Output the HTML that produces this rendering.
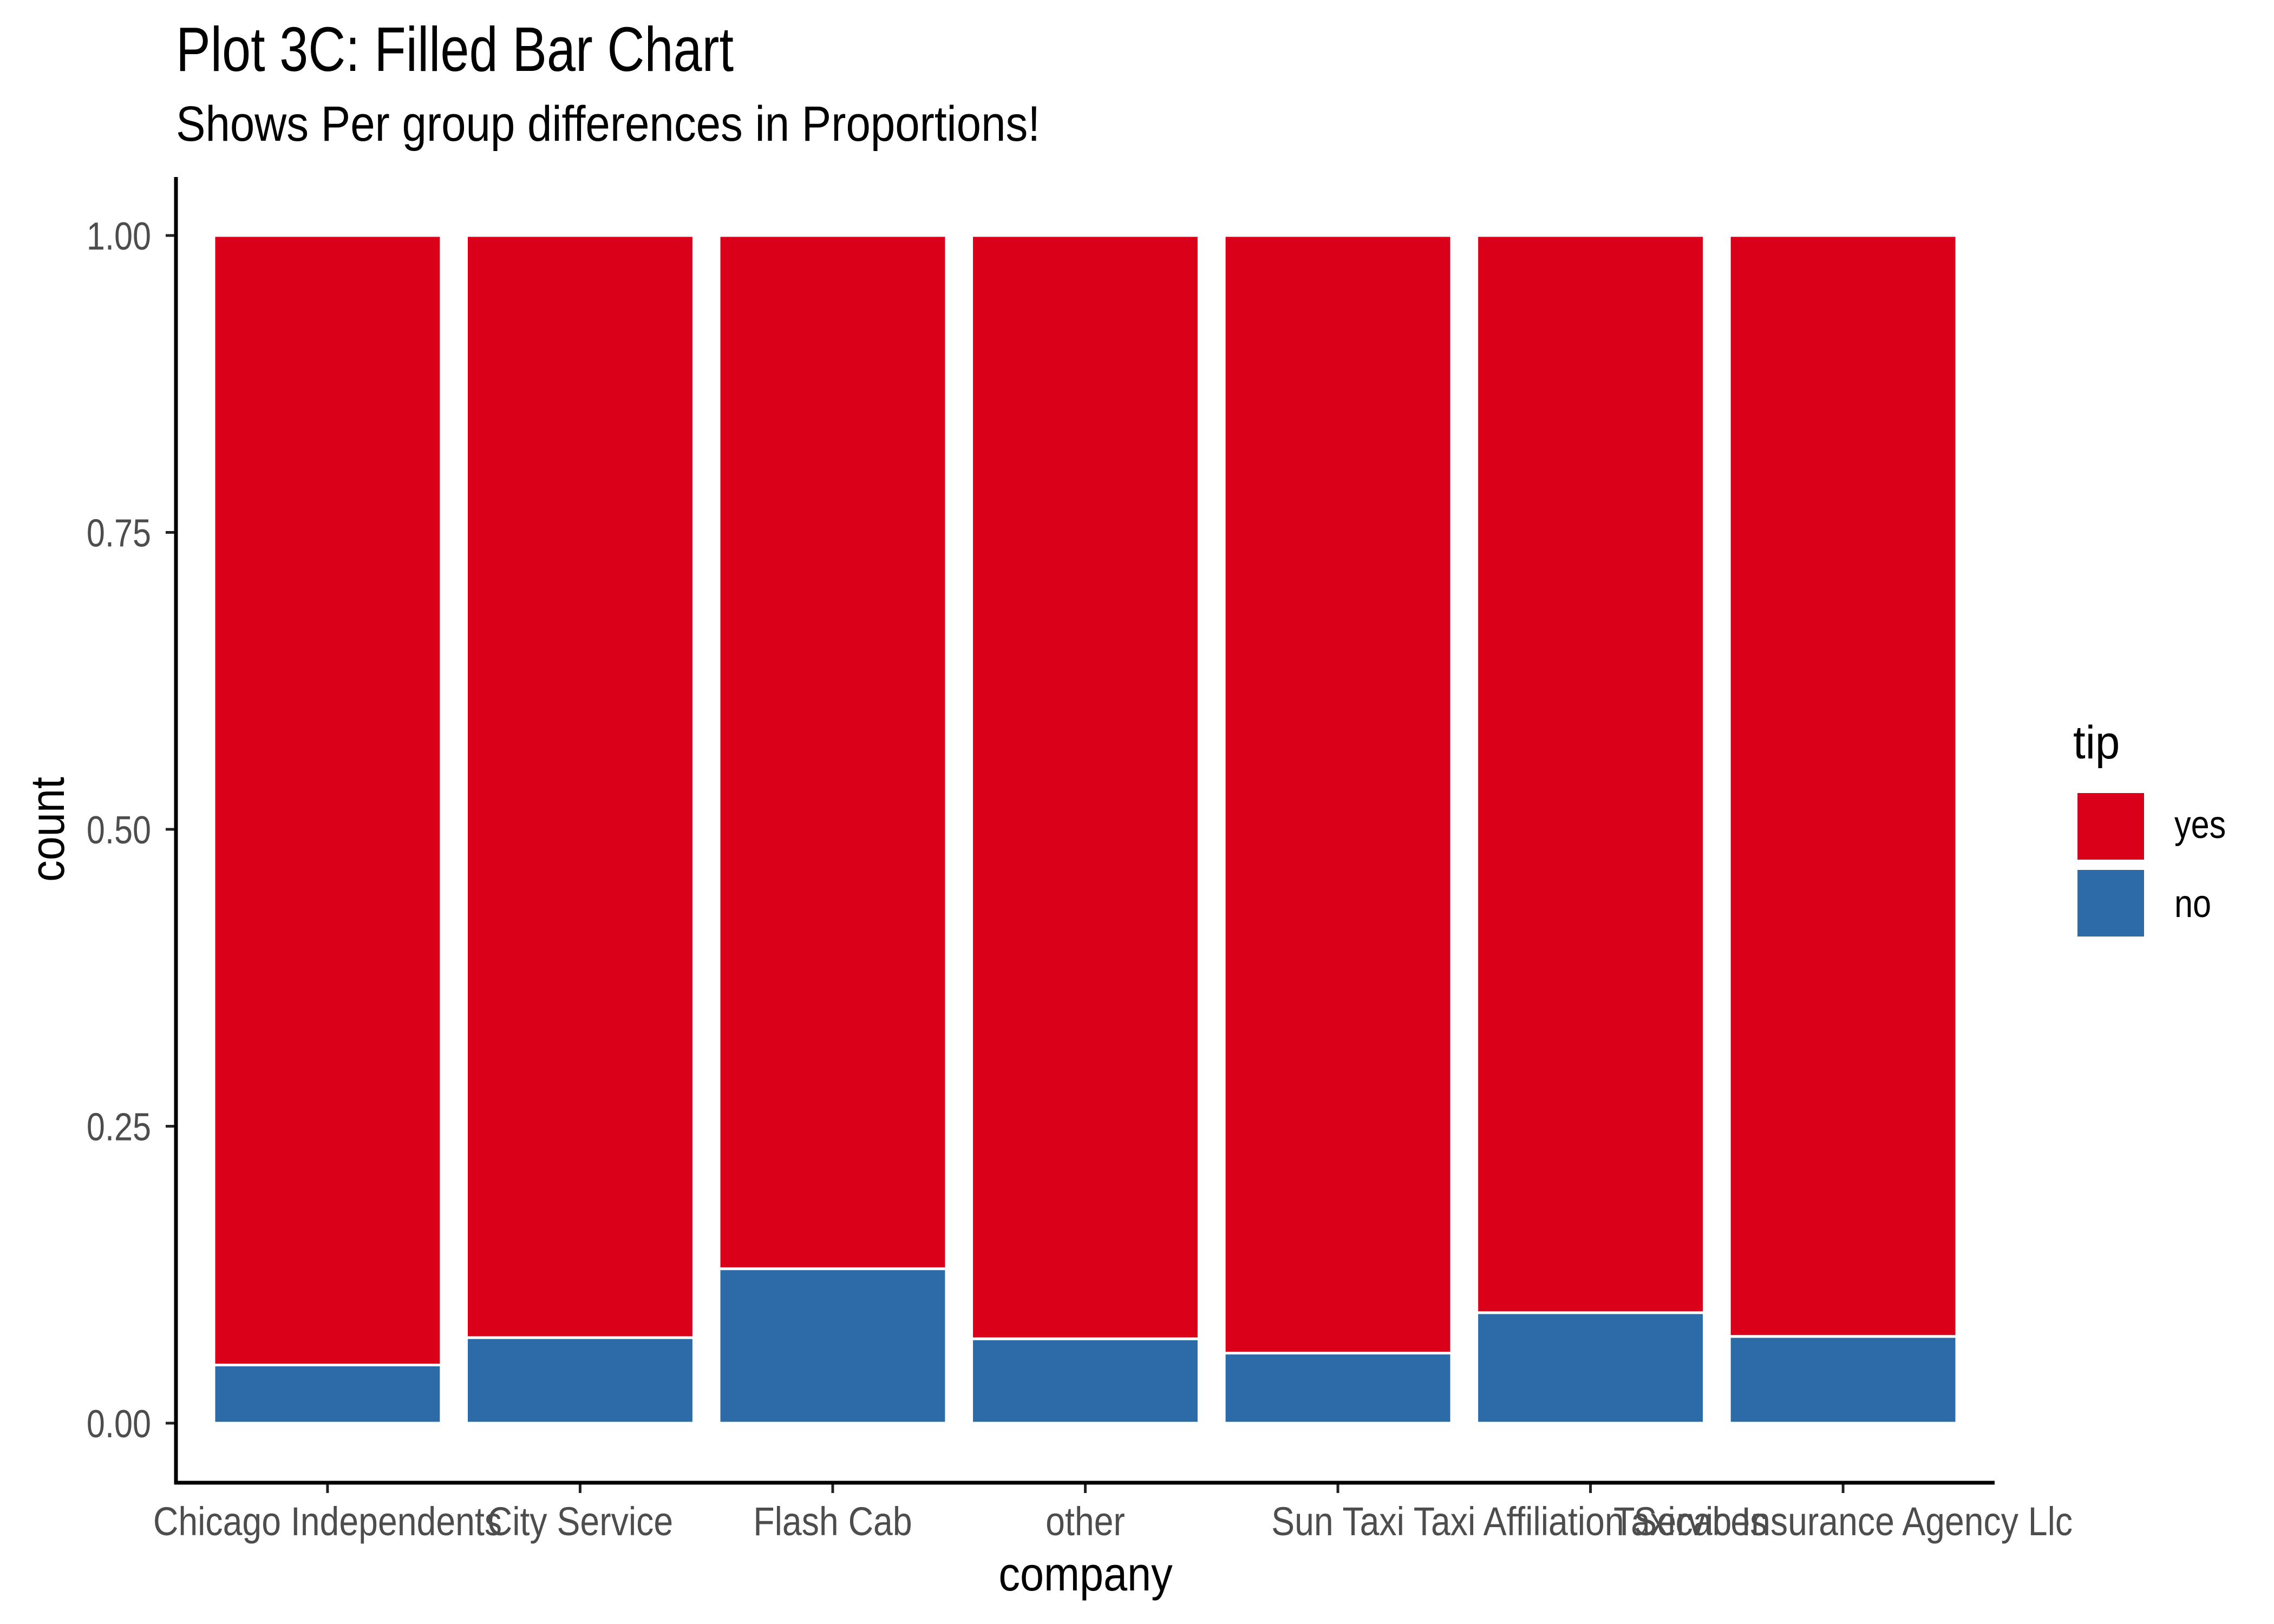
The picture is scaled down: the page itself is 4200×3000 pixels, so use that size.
<!DOCTYPE html>
<html><head><meta charset="utf-8"><style>
html,body{margin:0;padding:0;background:#fff;}
svg{display:block;}
text{font-family:"Liberation Sans Narrow","Liberation Sans",sans-serif;}
</style></head><body>
<svg id="chart" width="4200" height="3000" viewBox="0 0 4200 3000" xmlns="http://www.w3.org/2000/svg">
<rect width="4200" height="3000" fill="#fff"/>
<text x="325" y="131" font-size="116" fill="#000" textLength="1030" lengthAdjust="spacingAndGlyphs">Plot 3C: Filled Bar Chart</text>
<text x="325" y="260" font-size="92" fill="#000" textLength="1596" lengthAdjust="spacingAndGlyphs">Shows Per group differences in Proportions!</text>
<g id="bars"></g>
<g id="axes"></g>
<text font-size="88" fill="#000" text-anchor="middle" transform="translate(2005,2938) scale(0.9,1)">company</text>
<text font-size="88" fill="#000" text-anchor="middle" transform="translate(118,1532) rotate(-90) scale(0.9,1)">count</text>
<text font-size="86" fill="#000" transform="translate(3829,1401) scale(0.95,1)">tip</text>
<rect x="3837" y="1465" width="123" height="123" fill="#DA001A"/>
<text font-size="72" fill="#000" transform="translate(4016,1548) scale(0.85,1)">yes</text>
<rect x="3837" y="1607" width="123" height="123" fill="#2D6AA8"/>
<text font-size="72" fill="#000" transform="translate(4016,1694) scale(0.85,1)">no</text>
</svg>
<script>
const categories = ["Chicago Independents","City Service","Flash Cab","other","Sun Taxi","Taxi Affiliation Services","Taxicab Insurance Agency Llc"];
const noShare = [0.049, 0.072, 0.130, 0.071, 0.059, 0.093, 0.073];
const yTicks = [0, 0.25, 0.5, 0.75, 1];
const yTickLabels = ["0.00","0.25","0.50","0.75","1.00"];

const NS = "http://www.w3.org/2000/svg";
const panelL = 325, panelR = 3684, panelT = 327, panelB = 2739;
const y0px = 2629, y1px = 435;
const n = categories.length;
const unit = (panelR - panelL) / (n + 0.2);
function xScale(i){ return panelL + (0.6 + i) * unit; }
function yScale(v){ return y0px + (y1px - y0px) * v; }
const barW = 0.9 * unit;
const bars = document.getElementById('bars');
const axes = document.getElementById('axes');

function mk(tag, attrs){ const e = document.createElementNS(NS, tag); for (const k in attrs) e.setAttribute(k, attrs[k]); return e; }

categories.forEach((c, i) => {
  const cx = xScale(i);
  const yes = mk('rect', {x: cx - barW/2, y: yScale(1), width: barW, height: yScale(noShare[i]) - yScale(1), fill: '#DA001A', stroke: '#fff', 'stroke-width': 5});
  
  
  bars.appendChild(yes);
  const no = mk('rect', {x: cx - barW/2, y: yScale(noShare[i]), width: barW, height: yScale(0) - yScale(noShare[i]), fill: '#2D6AA8', stroke: '#fff', 'stroke-width': 5});
  
  
  bars.appendChild(no);
  const t = mk('line', {x1: cx, x2: cx, y1: panelB, y2: panelB + 19, stroke: '#222', 'stroke-width': 5});
  
  
  axes.appendChild(t);
  const lbl = mk('text', {'font-size': 74, fill: '#4d4d4d', 'text-anchor': 'middle', transform: 'translate(' + cx + ',2836) scale(0.87,1)'});
  lbl.textContent = c;
  
  
  axes.appendChild(lbl);
});

yTicks.forEach((v, i) => {
  const y = yScale(v);
  const t = mk('line', {x1: panelL - 19, x2: panelL, y1: y, y2: y, stroke: '#222', 'stroke-width': 5});
  
  
  axes.appendChild(t);
  const lbl = mk('text', {'font-size': 72, fill: '#4d4d4d', 'text-anchor': 'end', transform: 'translate(279,' + (y + 26) + ') scale(0.85,1)'});
  lbl.textContent = yTickLabels[i];
  
  
  axes.appendChild(lbl);
});

const yAxis = mk('line', {x1: panelL, x2: panelL, y1: panelT, y2: panelB + 3, stroke: '#000', 'stroke-width': 7});


axes.appendChild(yAxis);
const xAxis = mk('line', {x1: panelL - 3, x2: panelR, y1: panelB, y2: panelB, stroke: '#000', 'stroke-width': 7});


axes.appendChild(xAxis);
</script>
</body></html>
